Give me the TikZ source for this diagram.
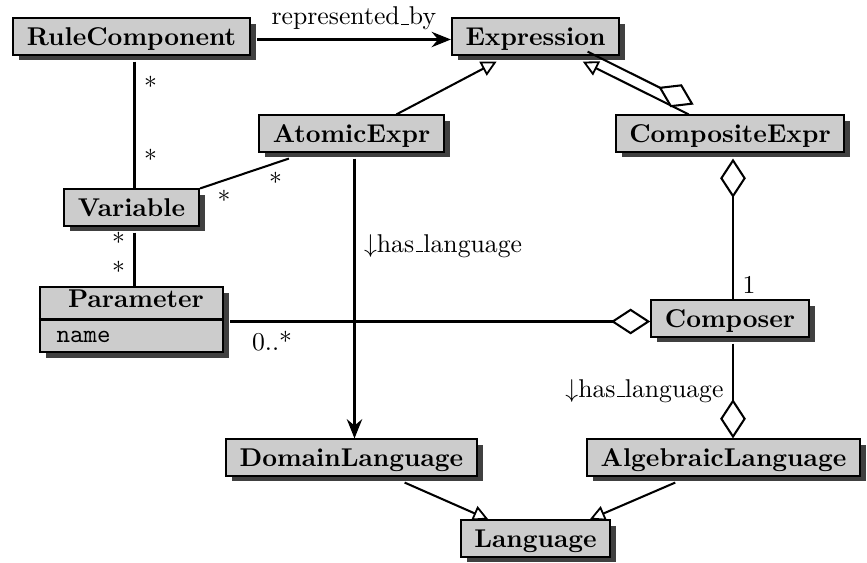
\documentclass[tikz,border=0pt]{standalone}
\usetikzlibrary{arrows.meta,shadows,fit,calc}
\newcommand{\mkhull}[1]{%
  \coordinate (#1se) at ($(#1.south east)+(6,6)$);
  \node[hull, fit=(#1.north west)(#1se)] (#1h) {};}
\newcommand{\lowbar}{\leavevmode\kern.06em\vbox{\hrule width.3em height .4pt}}
\begin{document}
\begin{tikzpicture}[x=0.389pt,y=-0.389pt,
  shadowed/.style={drop shadow={shadow xshift=2.3pt, shadow yshift=-2.3pt, fill=black!75, opacity=1}},
  clsbox/.style={draw, line width=0.8pt, fill=black!20, shadowed},
  cls/.style={clsbox, font=\bfseries, inner xsep=5.3pt, inner ysep=1.6pt,
    text height=8.9pt, text depth=1.94pt},
  hull/.style={inner sep=0pt, outer sep=0pt, draw=none, fill=none},
  conn/.style={line width=0.8pt},
  assocarrow/.style={-{Stealth[length=7.5pt,width=6pt,inset=2.5pt]}},
  inherit/.style={-{Triangle[length=6pt,width=6pt,fill=white,line width=0.7pt]}},
  aggrend/.style={-{Diamond[length=15.3pt,width=10pt,fill=white]}},
  aggrstart/.style={{Diamond[length=15.3pt,width=10pt,fill=white]}-},
  lbl/.style={inner sep=3.33pt}
]
\useasboundingbox (0,0) rectangle (867,563);

% classes
\node[cls] (RC) at (131.5,36.5) {RuleComponent};
\node[cls] (Ex) at (535.5,36.5) {Expression};
\node[cls] (AE) at (351.5,133.5) {AtomicExpr};
\node[cls] (CE) at (730,133.5) {CompositeExpr};
\node[cls] (Var) at (131.5,207.5) {Variable};
\node[clsbox, minimum width=71.2pt, minimum height=25.3pt, inner sep=0pt] (Param) at (131.5,319.5) {};
\draw[conn] (Param.west) -- (Param.east);
\node[anchor=base, inner sep=0pt, font=\bfseries] (ParamTitle) at ($(Param.center)+(4.5,-11.5)$) {Parameter};
\node[anchor=base west, inner sep=0pt, font=\ttfamily] (ParamAttr) at ($(Param.center)+(-75.5,23)$) {name};
\node[cls] (Comp) at (730,318.5) {Composer};
\node[cls] (DL) at (351.5,457.5) {DomainLanguage};
\node[cls] (AL) at (723.5,457.5) {AlgebraicLanguage};
\node[cls] (Lang) at (535.5,538.5) {Language};

% hulls (box + shadow)
\mkhull{RC}\mkhull{Ex}\mkhull{AE}\mkhull{CE}\mkhull{Var}\mkhull{Param}
\mkhull{Comp}\mkhull{DL}\mkhull{AL}\mkhull{Lang}

% connectors
\draw[conn, assocarrow] (RCh.east) -- (RCh.east -| Exh.west)
  node[midway, above, lbl] {represented\lowbar by};
\draw[conn] (RCh) -- (Varh)
  node[pos=0.19, right, lbl] {*} node[pos=0.77, right, lbl] {*};
\draw[conn] (Varh) -- (AEh)
  node[pos=0.27, below, lbl] {*} node[pos=0.85, below, lbl] {*};
\draw[conn] (Varh) -- (Paramh)
  node[pos=0.17, left, lbl] {*} node[pos=0.72, left, lbl] {*};
\draw[conn, assocarrow] (AEh) -- (DLh)
  node[pos=0.313, right, lbl] {$\downarrow$has\lowbar language};
\draw[conn, aggrend] (Paramh.east |- Comph.west) -- (Comph.west)
  node[pos=0.1, below, lbl] {0..*};
\draw[conn, aggrstart] (CEh) -- (Comph)
  node[pos=0.9, right, lbl] {1};
\draw[conn, aggrend] (Comph.south) -- (Comph.south |- ALh.north)
  node[midway, left, lbl] {$\downarrow$has\lowbar language};
\draw[conn, inherit] (AEh) -- (Exh);
\draw[conn, inherit] (CEh) -- (Exh);
\draw[conn, aggrend, transform canvas={shift={(4.9,-9.9)}}] (Exh) -- (CEh);
\draw[conn, inherit] (DLh) -- (Langh);
\draw[conn, inherit] (ALh) -- (Langh);
\end{tikzpicture}
\end{document}
